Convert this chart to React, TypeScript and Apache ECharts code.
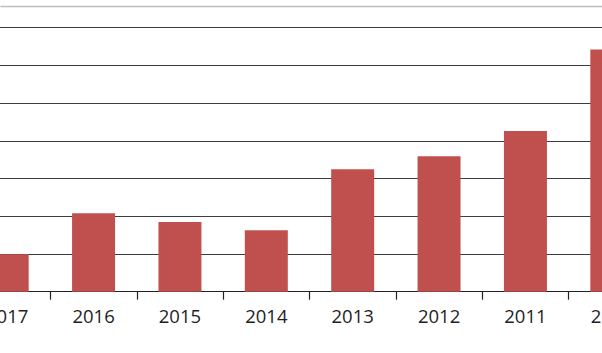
import React, { useEffect, useRef } from "react";
import * as echarts from "echarts";

const categories = ["2017", "2016", "2015", "2014", "2013", "2012", "2011", "2010"];
const values = [0.99, 2.08, 1.85, 1.63, 3.25, 3.59, 4.26, 6.42];
const yMin = 0;
const yMax = 7;
const yInterval = 1;

const OFFSET = 36.4;
const CHART_W = 691;

export default function App() {
  const ref = useRef<HTMLDivElement>(null);
  useEffect(() => {
    if (!ref.current) return;
    const chart = echarts.init(ref.current, null, { renderer: "svg" });
    chart.setOption({
      animation: false,
      backgroundColor: "#ffffff",
      graphic: [
        {
          type: "line",
          shape: { x1: OFFSET, y1: 6.5, x2: OFFSET + 602, y2: 6.5 },
          style: { stroke: "#bdbdbd", lineWidth: 1.5 },
          silent: true,
        },
      ],
      grid: { left: 0, right: 0, top: 27.7, bottom: 61.3, containLabel: false },
      xAxis: {
        type: "category",
        data: categories,
        boundaryGap: true,
        axisLine: { show: true, lineStyle: { color: "#222", width: 1.2 } },
        axisTick: { show: true, length: 8, inside: false, lineStyle: { color: "#222", width: 1.2 } },
        axisLabel: {
          show: true,
          color: "#1e1e1e",
          fontFamily: "Open Sans",
          fontSize: 18.5,
          margin: 14,
        },
        splitLine: { show: false },
      },
      yAxis: {
        type: "value",
        min: yMin,
        max: yMax,
        interval: yInterval,
        axisLine: { show: false },
        axisTick: { show: false },
        axisLabel: { show: false },
        splitLine: { show: true, lineStyle: { color: "#3c3c3c", width: 1.2 } },
      },
      series: [
        {
          type: "bar",
          data: values,
          barWidth: 43,
          itemStyle: { color: "#C0504D" },
        },
      ],
    });
    return () => chart.dispose();
  }, []);
  return (
    <div style={{ position: "absolute", left: 0, top: 0, width: 602, height: 353, overflow: "hidden", background: "#fff" }}>
      <div ref={ref} style={{ position: "absolute", left: -OFFSET, top: 0, width: CHART_W, height: 353 }} />
    </div>
  );
}
